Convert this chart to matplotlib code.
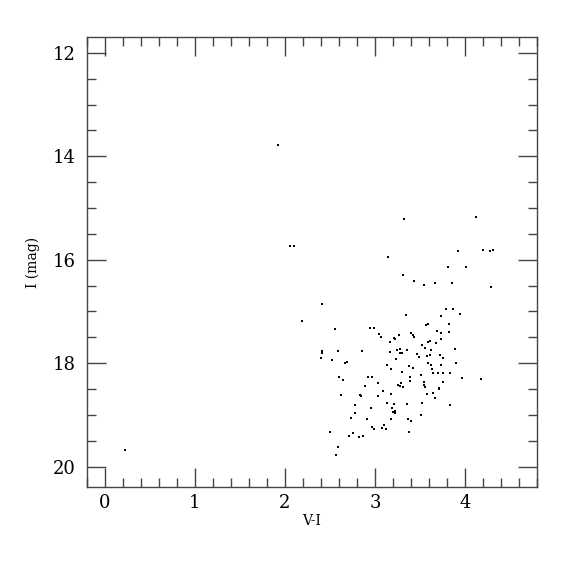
import matplotlib
matplotlib.use("Agg")
import matplotlib.pyplot as plt
from matplotlib.ticker import MultipleLocator

# colour V-I and magnitude I
vi = [0.222, 1.927, 2.052, 2.104, 2.408, 2.185,
      3.319, 4.126, 3.148, 3.926, 4.204, 4.274, 4.311, 3.815, 4.008, 3.311,
      3.430, 3.548, 3.667, 3.856, 4.293,
      2.556, 2.941, 2.993, 3.041, 3.063, 3.171, 3.208, 3.222, 3.263, 3.341,
      3.404, 3.419, 3.434, 3.519, 3.563, 3.593, 3.585, 3.615, 3.674, 3.689,
      3.730, 3.730, 3.785, 3.863, 3.941, 3.730, 3.819, 3.819,
      2.411, 2.415, 2.593, 2.852, 3.171, 3.245, 3.282, 3.274, 3.297, 3.356,
      3.471, 3.485, 3.574, 3.615, 3.719, 3.759, 3.893, 3.626, 3.552,
      2.397, 2.519, 2.671, 2.689, 3.234, 3.134, 3.182, 3.374, 3.426, 3.589,
      3.619, 3.637, 3.737, 3.900, 3.297, 3.389, 3.515, 3.545, 3.541, 3.559,
      2.600, 2.645, 2.922, 2.971, 3.037, 2.885, 3.259, 3.282, 3.289, 3.308,
      3.393, 3.648, 3.704, 3.756, 3.830, 3.963, 4.174, 3.752, 3.715, 3.708,
      2.626, 2.830, 2.841, 3.030, 3.093, 3.182, 3.578, 3.648, 3.671,
      2.782, 2.959, 3.137, 3.211, 3.359, 3.526, 3.837, 2.774, 2.730, 2.911,
      3.193, 3.200, 3.211, 3.219, 3.222, 3.178, 3.371, 3.404, 3.511,
      2.504, 2.752, 2.715, 2.819, 2.863, 2.971, 2.985, 3.082, 3.097, 3.126,
      3.382, 2.585, 2.567]
imag = [19.67, 13.79, 15.73, 15.73, 16.865, 17.192,
        15.205, 15.173, 15.948, 15.840, 15.808, 15.827, 15.821, 16.147, 16.141, 16.288,
        16.404, 16.481, 16.449, 16.449, 16.526,
        17.346, 17.327, 17.314, 17.442, 17.494, 17.596, 17.506, 17.526, 17.455, 17.070,
        17.423, 17.461, 17.494, 17.647, 17.256, 17.237, 17.596, 17.564, 17.609, 17.378,
        17.410, 17.526, 16.955, 16.949, 17.045, 17.096, 17.244, 17.391,
        17.756, 17.795, 17.763, 17.763, 17.782, 17.750, 17.718, 17.801, 17.801, 17.743,
        17.814, 17.885, 17.859, 17.833, 17.846, 17.891, 17.724, 17.737, 17.711,
        17.904, 17.929, 17.999, 17.980, 17.923, 18.038, 18.115, 18.051, 18.096, 17.987,
        18.032, 18.109, 18.032, 18.000, 18.166, 18.276, 18.224, 18.359, 18.423, 18.468,
        18.269, 18.327, 18.269, 18.269, 18.378, 18.442, 18.429, 18.448, 18.378, 18.468,
        18.352, 18.192, 18.192, 18.199, 18.192, 18.282, 18.301, 18.372, 18.487, 18.506,
        18.615, 18.609, 18.634, 18.634, 18.538, 18.590, 18.590, 18.577, 18.679,
        18.814, 18.872, 18.769, 18.788, 18.788, 18.776, 18.814, 18.955, 19.051, 19.070,
        18.859, 18.942, 18.949, 18.929, 18.955, 19.077, 19.083, 19.122, 19.000,
        19.340, 19.346, 19.410, 19.429, 19.410, 19.243, 19.269, 19.256, 19.192, 19.269,
        19.327, 19.622, 19.782]

plt.rcParams['font.family'] = ['DejaVu Serif']

fig = plt.figure(figsize=(5.75, 5.75), dpi=100)
ax = fig.add_axes([0.1513, 0.1525, 0.7826, 0.7826])

ax.plot(vi, imag, 's', color='black', ms=1.6, mew=0)

ax.set_xlim(-0.2, 4.8)
ax.set_ylim(20.4, 11.7)
ax.xaxis.set_major_locator(MultipleLocator(1))
ax.xaxis.set_minor_locator(MultipleLocator(0.2))
ax.yaxis.set_major_locator(MultipleLocator(2))
ax.yaxis.set_minor_locator(MultipleLocator(0.5))

ax.tick_params(which='both', direction='in', top=True, right=True, color='#444444')
ax.tick_params(which='major', length=13.5, width=1, labelsize=13)
ax.tick_params(axis='x', which='major', pad=5)
ax.tick_params(axis='y', which='major', pad=8)
ax.tick_params(which='minor', length=6.8, width=1)
for s in ax.spines.values():
    s.set_color('#444444')
    s.set_linewidth(1)

ax.set_xlabel('V-I', fontsize=10, labelpad=1)
ax.set_ylabel('I (mag)', fontsize=10, labelpad=9)

fig.savefig('out.png', dpi=100)
